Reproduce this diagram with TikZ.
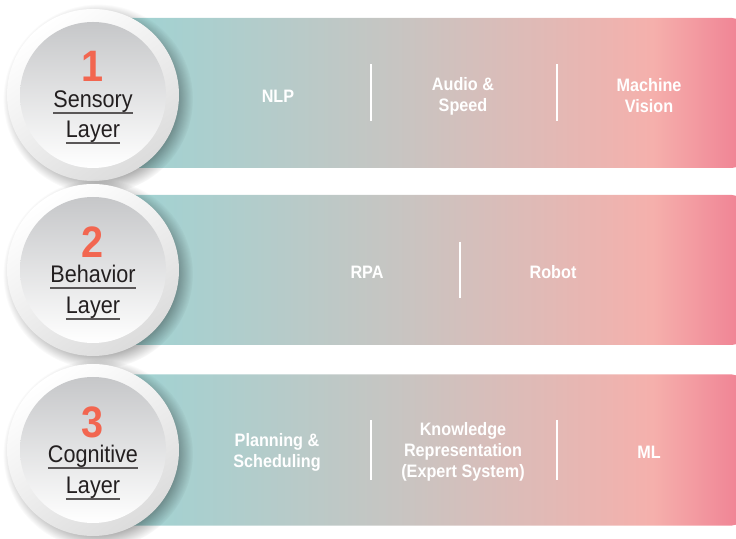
\documentclass[tikz,border=0pt]{standalone}
\usepackage{fontspec}
\setmainfont{Liberation Sans}
\newfontfamily\narrowfont{Liberation Sans}[FakeStretch=0.9]
\usetikzlibrary{fadings}

\definecolor{bandteal}{HTML}{9FD3D3}
\definecolor{bandgray}{HTML}{C7C5C2}
\definecolor{bandrose}{HTML}{E2B9B5}
\definecolor{bandpink}{HTML}{F5B0AC}
\definecolor{bandred}{HTML}{F08294}
\definecolor{layerred}{HTML}{F26650}
\definecolor{layerink}{HTML}{231F20}
\definecolor{ringgray}{HTML}{DCDCDC}
\definecolor{innergray}{HTML}{C6C7C9}
\definecolor{innermid}{HTML}{E9E9EA}

\pgfdeclarehorizontalshading{bandshade}{100bp}{color(0bp)=(bandteal); color(27bp)=(bandteal); color(48bp)=(bandgray); color(60bp)=(bandrose); color(68bp)=(bandpink); color(75bp)=(bandred); color(100bp)=(bandred)}

\tikzset{
    bandbox/.style={shading=bandshade, rounded corners=10pt},
    ringshadow/.style={fill=black, opacity=0.38, path fading=circle with fuzzy edge 20 percent},
    ringouter/.style={top color=white, bottom color=ringgray, shading angle=35},
    ringinner/.style={top color=innergray, middle color=innermid, bottom color=white},
    layernum/.style={text=layerred, inner sep=0pt, font=\narrowfont\bfseries\fontsize{44}{44}\selectfont},
    layername/.style={text=layerink, inner sep=0pt, anchor=base, font=\narrowfont\fontsize{24}{24}\selectfont},
    underline/.style={draw=layerink!75, line width=1.3pt},
    itemtext/.style={text=white, align=center, font=\narrowfont\bfseries\fontsize{18}{21}\selectfont},
    divider/.style={draw=white, line width=1.6pt}
}

\begin{document}
\begin{tikzpicture}[x=1pt, y=1pt]
    \useasboundingbox (0,0) rectangle (736,538);

    % ==========================================
    % BANDS
    % ==========================================

    % Sensory band
    \begin{scope}[shift={(0,445)}]
        \shade[bandbox] (100,-75) rectangle (742,75);
        \draw[divider] (371,28.5) -- (371,-28.5);
        \draw[divider] (557,28.5) -- (557,-28.5);
        \node[itemtext] (nlp) at (278,-3) {NLP};
        \node[itemtext] (audio) at (463,-3) {Audio \&\\Speed};
        \node[itemtext] (vision) at (649,-3) {Machine\\Vision};
    \end{scope}

    % Behavior band
    \begin{scope}[shift={(0,268)}]
        \shade[bandbox] (100,-75) rectangle (742,75);
        \draw[divider] (460,28) -- (460,-28);
        \node[itemtext] (rpa) at (367,-2) {RPA};
        \node[itemtext] (robot) at (553,-2) {Robot};
    \end{scope}

    % Cognitive band
    \begin{scope}[shift={(0,88)}]
        \shade[bandbox] (100,-75.5) rectangle (742,75.5);
        \draw[divider] (371,30) -- (371,-30);
        \draw[divider] (557,30) -- (557,-30);
        \node[itemtext] (planning) at (277,-2) {Planning \&\\Scheduling};
        \node[itemtext] (knowledge) at (463,-2) {Knowledge\\Representation\\(Expert System)};
        \node[itemtext] (ml) at (649,-2) {ML};
    \end{scope}

    % ==========================================
    % LAYER CIRCLES
    % ==========================================

    % Layer 1
    \begin{scope}[shift={(93,443)}]
        \fill[ringshadow] (5,-4) circle (95);
        \shade[ringouter] (0,0) circle (86);
        \shade[ringinner] (0,0) circle (73);
        \node[layernum] (num1) at (0,29) {1};
        \node[layername] (sensory) at (0,-13) {Sensory};
        \node[layername] (layer1) at (0,-43) {Layer};
        \draw[underline] ([yshift=-5pt]sensory.base west) -- ([yshift=-5pt]sensory.base east);
        \draw[underline] ([yshift=-5pt]layer1.base west) -- ([yshift=-5pt]layer1.base east);
    \end{scope}

    % Layer 2
    \begin{scope}[shift={(93,268)}]
        \fill[ringshadow] (5,-4) circle (95);
        \shade[ringouter] (0,0) circle (86);
        \shade[ringinner] (0,0) circle (73);
        \node[layernum] (num2) at (0,28) {2};
        \node[layername] (behavior) at (0,-13) {Behavior};
        \node[layername] (layer2) at (0,-44) {Layer};
        \draw[underline] ([yshift=-5pt]behavior.base west) -- ([yshift=-5pt]behavior.base east);
        \draw[underline] ([yshift=-5pt]layer2.base west) -- ([yshift=-5pt]layer2.base east);
    \end{scope}

    % Layer 3
    \begin{scope}[shift={(93,88)}]
        \fill[ringshadow] (5,-4) circle (95);
        \shade[ringouter] (0,0) circle (86);
        \shade[ringinner] (0,0) circle (73);
        \node[layernum] (num3) at (0,28) {3};
        \node[layername] (cognitive) at (0,-13) {Cognitive};
        \node[layername] (layer3) at (0,-44) {Layer};
        \draw[underline] ([yshift=-5pt]cognitive.base west) -- ([yshift=-5pt]cognitive.base east);
        \draw[underline] ([yshift=-5pt]layer3.base west) -- ([yshift=-5pt]layer3.base east);
    \end{scope}
\end{tikzpicture}
\end{document}
